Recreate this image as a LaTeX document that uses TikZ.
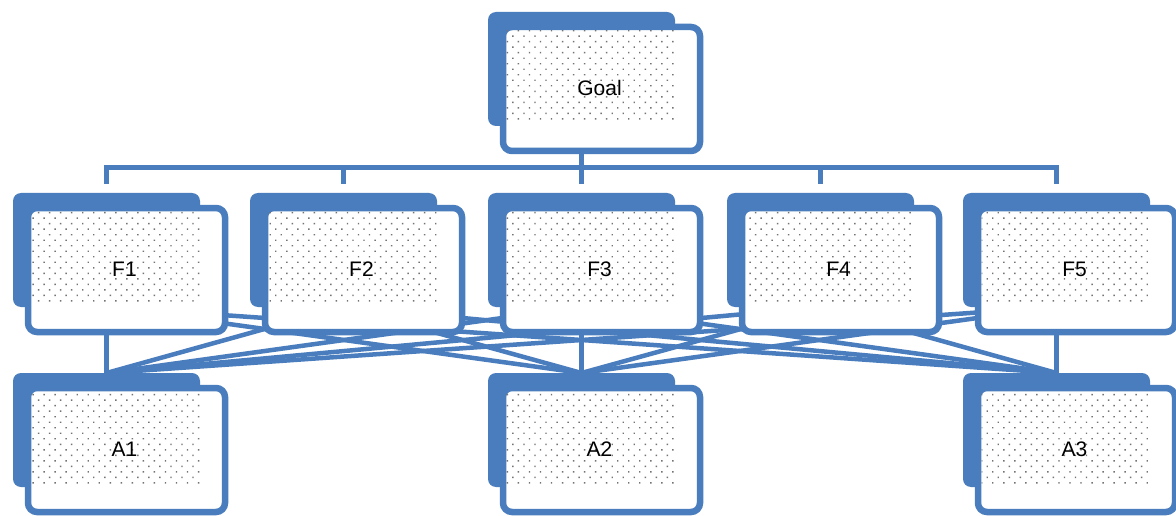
\documentclass[tikz,border=0pt]{standalone}
\usepackage{fontspec}
\setmainfont{Liberation Sans}
\usetikzlibrary{patterns.meta}
\pgfdeclarelayer{bg}
\pgfsetlayers{bg,main}
\definecolor{boxblue}{HTML}{4A7DBD}
\tikzset{
  backbox/.style={fill=boxblue, draw=none, rounded corners=8pt, minimum width=187pt, minimum height=114pt, inner sep=0pt, outer sep=0pt},
  frontbox/.style={fill=white, draw=boxblue, line width=6.5pt, rounded corners=9pt, minimum width=197pt, minimum height=124pt, inner sep=0pt, outer sep=0pt},
  dotfill/.style={pattern={Dots[radius=1pt,distance=7.8pt,angle=45]}, pattern color=black!55},
  boxlabel/.style={font=\fontsize{21}{21}\selectfont, text=black, inner sep=0pt},
  link/.style={draw=boxblue, line width=4.5pt},
  bus/.style={draw=boxblue, line width=5pt, shorten >=9pt},
}
\begin{document}
\begin{tikzpicture}[x=1pt,y=-1pt]
\useasboundingbox (0,0) rectangle (1176,516);
\foreach \n/\bx/\by in {Goal/488/12, F1/13/193, F2/250/193, F3/488/193, F4/727/193, F5/963/193, A1/13/373, A2/488/373, A3/963/373}{
  \node[backbox] (b\n) at (\bx+93.5,\by+57) {};
  \node[frontbox] (f\n) at (\bx+113.5,\by+77) {};
  \path[dotfill] ([shift={(3.5,3.5)}]f\n.north west) rectangle ([shift={(0,-4)}]b\n.south east);
  \node[boxlabel] (\n) at ([shift={(-2,-1)}]f\n.center) {\n};
}
\begin{pgfonlayer}{bg}
  \fill[white] (0,0) rectangle (1176,516);
  \foreach \f in {F1,F2,F3,F4,F5}{
    \draw[bus] (bGoal.south) -- ++(0,42) -| (b\f.north);
  }
  \foreach \f in {F1,F2,F3,F4,F5}{
    \foreach \a in {A1,A2,A3}{
      \draw[link] (b\f.south) -- (b\a.north);
    }
  }
\end{pgfonlayer}
\end{tikzpicture}
\end{document}
